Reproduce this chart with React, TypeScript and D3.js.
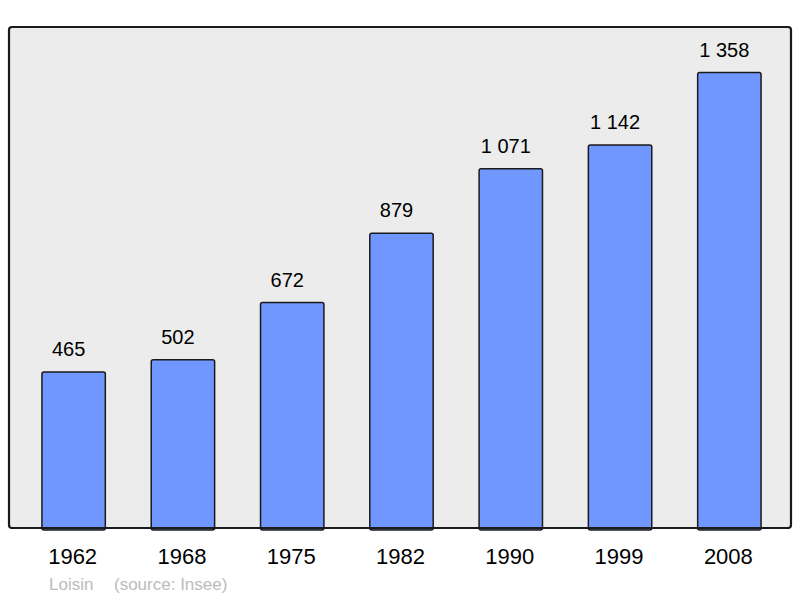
import React, { useEffect, useRef } from 'react';
import * as d3 from 'd3';

const years = ['1962', '1968', '1975', '1982', '1990', '1999', '2008'];
const population = [465, 502, 672, 879, 1071, 1142, 1358];
const commune = 'Loisin';
const source = '(source: Insee)';

const fmt = (v: number) => d3.format(',')(v).replace(/,/g, ' ');
const font = '"Liberation Sans", Arial, sans-serif';

const App = () => {
  const ref = useRef<SVGSVGElement>(null);

  useEffect(() => {
    const svg = d3.select(ref.current);
    svg.selectAll('*').remove();

    const panelLeft = 9;
    const panelTop = 27;
    const panelRight = 791;
    const panelBottom = 528;

    // background panel
    svg.append('rect')
      .attr('x', panelLeft)
      .attr('y', panelTop)
      .attr('width', panelRight - panelLeft)
      .attr('height', panelBottom - panelTop)
      .attr('rx', 3)
      .attr('fill', '#ececec')
      .attr('stroke', '#1a1a1a')
      .attr('stroke-width', 2.2);

    const x = d3.scaleBand<string>()
      .domain(years)
      .range([19, 784])
      .paddingInner(0.42)
      .paddingOuter(0.21);

    const y = d3.scaleLinear()
      .domain([0, d3.max(population)! * 1.1])
      .range([panelBottom, panelTop]);

    const data = years.map((yr, i) => ({ year: yr, value: population[i] }));

    svg.append('g')
      .selectAll('rect')
      .data(data)
      .join('rect')
      .attr('x', d => x(d.year)!)
      .attr('y', d => y(d.value))
      .attr('width', x.bandwidth())
      .attr('height', d => panelBottom - y(d.value) + 2)
      .attr('rx', 2)
      .attr('fill', '#7097ff')
      .attr('stroke', '#1a1a1a')
      .attr('stroke-width', 1.5);

    // redraw bottom edge of panel over bars
    svg.append('line')
      .attr('x1', panelLeft + 2)
      .attr('x2', panelRight - 2)
      .attr('y1', panelBottom)
      .attr('y2', panelBottom)
      .attr('stroke', '#1a1a1a')
      .attr('stroke-width', 2.2);

    // value labels (sit a little left of bar centre, as in the original)
    svg.append('g')
      .selectAll('text')
      .data(data)
      .join('text')
      .attr('x', d => x(d.year)! + x.bandwidth() / 2 - 5)
      .attr('y', d => y(d.value) - 16)
      .attr('text-anchor', 'middle')
      .attr('font-family', font)
      .attr('font-size', 20)
      .attr('fill', '#000')
      .text(d => fmt(d.value));

    // year labels
    svg.append('g')
      .selectAll('text')
      .data(data)
      .join('text')
      .attr('x', d => x(d.year)! + x.bandwidth() / 2 - 1)
      .attr('y', 564)
      .attr('text-anchor', 'middle')
      .attr('font-family', font)
      .attr('font-size', 22)
      .attr('fill', '#000')
      .text(d => d.year);

    svg.append('text')
      .attr('x', 49)
      .attr('y', 590)
      .attr('font-family', font)
      .attr('font-size', 17)
      .attr('fill', '#bbbbbb')
      .text(commune);

    svg.append('text')
      .attr('x', 114)
      .attr('y', 590)
      .attr('font-family', font)
      .attr('font-size', 17)
      .attr('fill', '#bbbbbb')
      .text(source);
  }, []);

  return (
    <svg
      ref={ref}
      width={800}
      height={598}
      style={{ position: 'absolute', left: 0, top: 0, background: '#fff' }}
    />
  );
};

export default App;
